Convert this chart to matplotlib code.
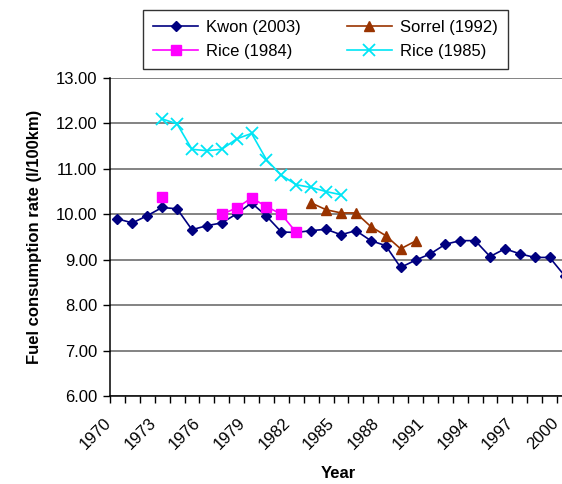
import numpy as np
import matplotlib
matplotlib.use("Agg")
import matplotlib.pyplot as plt
from matplotlib.ticker import FixedLocator, FormatStrFormatter
from matplotlib.transforms import ScaledTranslation

plt.rcParams["font.family"] = ["Liberation Sans", "DejaVu Sans"]

# fuel consumption (l/100km) by year, from the four studies
kwon_years = list(range(1970, 2001))
kwon = [9.90, 9.81, 9.97, 10.15, 10.12, 9.66, 9.75, 9.81, 10.01, 10.25,
        9.96, 9.61, 9.60, 9.64, 9.67, 9.55, 9.64, 9.42, 9.31, 8.83,
        8.99, 9.13, 9.34, 9.42, 9.42, 9.07, 9.24, 9.13, 9.05, 9.05, 8.65]

sorrel_years = list(range(1983, 1991))
sorrel = [10.25, 10.10, 10.03, 10.03, 9.73, 9.53, 9.24, 9.41]

rice84_years = list(range(1973, 1983))
rice84 = [10.37, np.nan, np.nan, np.nan, 10.00, 10.14, 10.36, 10.17, 10.00, 9.60]

rice85_years = list(range(1973, 1986))
rice85 = [12.10, 11.99, 11.43, 11.40, 11.43, 11.66, 11.78, 11.20, 10.86,
          10.65, 10.59, 10.50, 10.43]

xtick_years = list(range(1970, 2001, 3))

fig = plt.figure(figsize=(5.62, 4.84), dpi=100)
ax = fig.add_axes([110 / 562, 1 - 396 / 484, 462 / 562, 318 / 484])

ax.plot(kwon_years, kwon, color="#000080", marker="D", markersize=5.5, lw=1.2, label="Kwon (2003)", zorder=3)
ax.plot(sorrel_years, sorrel, color="#993300", marker="^", markersize=6.5, lw=1.2, label="Sorrel (1992)", zorder=3)
ax.plot(rice84_years, rice84, color="#FF00FF", marker="s", markersize=7, lw=1.2, label="Rice (1984)", zorder=3)
ax.plot(rice85_years, rice85, color="#00E5F5", marker="x", markersize=8, mew=1.3, lw=1.2, label="Rice (1985)", zorder=3)

ax.set_xlim(1969.5, 2000.5)
ax.set_ylim(6, 13)
ax.set_yticks(range(6, 14))
ax.yaxis.set_major_formatter(FormatStrFormatter("%.2f"))
ax.grid(axis="y", color="#7a7a7a", lw=1.3)
ax.set_axisbelow(True)

ax.set_xticks(xtick_years)
ax.set_xticklabels([str(y) for y in xtick_years], rotation=45, ha="right", va="top", rotation_mode="anchor")
ax.tick_params(axis="x", which="major", length=0, pad=14)
# nudge the year labels a bit to the left of their category
shift = ScaledTranslation(-14 / 100, 0, fig.dpi_scale_trans)
for lab in ax.get_xticklabels():
    lab.set_transform(lab.get_transform() + shift)
ax.xaxis.set_minor_locator(FixedLocator(np.arange(1969.5, 2001, 1)))
ax.tick_params(axis="x", which="minor", length=5, width=1, direction="out")
ax.tick_params(axis="y", length=5, width=1, direction="out", pad=4)
ax.tick_params(labelsize=12)

for s in ["top", "right"]:
    ax.spines[s].set_visible(False)
ax.spines["left"].set_linewidth(1.1)
ax.spines["bottom"].set_linewidth(1.1)

ax.set_ylabel("Fuel consumption rate (l/100km)", fontsize=12, fontweight="bold", labelpad=10)
fig.text(338 / 562, 1 - 473 / 484, "Year", fontsize=12, fontweight="bold", ha="center", va="center")

h, l = ax.get_legend_handles_labels()
order = [0, 2, 1, 3]
leg = fig.legend([h[i] for i in order], [l[i] for i in order], ncol=2,
                 loc="upper left", bbox_to_anchor=(143 / 562, 1 - 10 / 484),
                 fontsize=12, fancybox=False, edgecolor="black",
                 handlelength=2.7, borderpad=0.6, labelspacing=0.55, handletextpad=0.5,
                 columnspacing=2.75, borderaxespad=0)
leg.get_frame().set_linewidth(1.0)

fig.savefig("out.png", dpi=100)
